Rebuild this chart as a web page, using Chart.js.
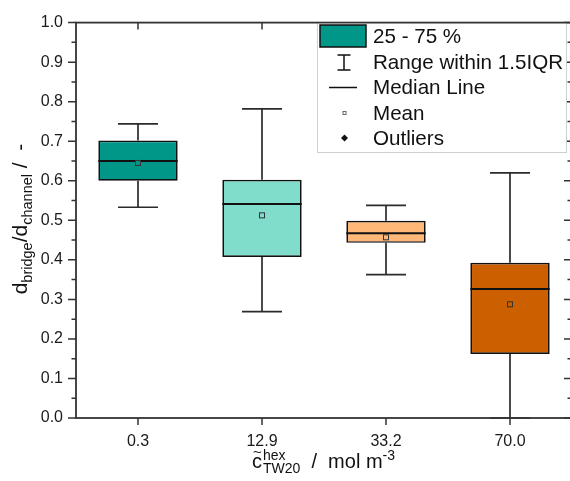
<!DOCTYPE html>
<html><head><meta charset="utf-8">
<script src="https://cdn.jsdelivr.net/npm/chart.js@4.4.1/dist/chart.umd.min.js"></script>
<style>html,body{margin:0;padding:0;overflow:hidden;background:#fff}#wrap{width:574px;height:481px}</style>
</head><body><div id="wrap"><canvas id="c" width="574" height="481"></canvas></div>
<script>
const categories = ['0.3', '12.9', '33.2', '70.0'];
const whiskerLow = [0.533, 0.269, 0.3625, 0.0];
const q1 = [0.600, 0.407, 0.443, 0.162];
const median = [0.650, 0.541, 0.4675, 0.326];
const q3 = [0.702, 0.6025, 0.499, 0.3925];
const whiskerHigh = [0.744, 0.782, 0.5375, 0.620];
const means = [0.645, 0.5125, 0.457, 0.2875];
const boxColors = ['#009688', '#80DDCB', '#FFB878', '#CC6000'];
const yTickValues = [0, 0.1, 0.2, 0.3, 0.4, 0.5, 0.6, 0.7, 0.8, 0.9, 1.0];
const yMinorValues = [0.05, 0.15, 0.25, 0.35, 0.45, 0.55, 0.65, 0.75, 0.85, 0.95];
const legendLabels = ['25 - 75 %', 'Range within 1.5IQR', 'Median Line', 'Mean', 'Outliers'];

const FONT = "'Liberation Sans', Arial, sans-serif";
const AX = '#333333';

function drawRich(ctx, parts, x, y) {
  let cx = x;
  parts.forEach(p => {
    ctx.font = p[1] + 'px ' + FONT;
    ctx.fillText(p[0], cx, y + p[2]);
    cx += ctx.measureText(p[0]).width;
  });
  return cx;
}
function richWidth(ctx, parts) {
  let w = 0;
  parts.forEach(p => { ctx.font = p[1] + 'px ' + FONT; w += ctx.measureText(p[0]).width; });
  return w;
}

const extras = {
  id: 'extras',
  afterDatasetsDraw(chart) {
    const { ctx, scales: { x, y } } = chart;
    const meta = chart.getDatasetMeta(0);
    ctx.save();
    categories.forEach((c, i) => {
      const bar = meta.data[i];
      const cx = x.getPixelForValue(i);
      const half = bar.width / 2;
      const cap = 20;
      const yHi = y.getPixelForValue(whiskerHigh[i]);
      const yLo = y.getPixelForValue(whiskerLow[i]);
      const yQ3 = y.getPixelForValue(q3[i]);
      const yQ1 = y.getPixelForValue(q1[i]);
      ctx.strokeStyle = '#2b2b2b';
      ctx.lineWidth = 1.7;
      ctx.beginPath();
      ctx.moveTo(cx, yQ3); ctx.lineTo(cx, yHi);
      ctx.moveTo(cx, yQ1); ctx.lineTo(cx, yLo);
      ctx.moveTo(cx - cap, yHi); ctx.lineTo(cx + cap, yHi);
      ctx.moveTo(cx - cap, yLo); ctx.lineTo(cx + cap, yLo);
      ctx.stroke();
      const yM = y.getPixelForValue(median[i]);
      ctx.strokeStyle = '#111';
      ctx.lineWidth = 2;
      ctx.beginPath();
      ctx.moveTo(cx - half, yM); ctx.lineTo(cx + half, yM);
      ctx.stroke();
      const yMean = y.getPixelForValue(means[i]);
      ctx.fillStyle = boxColors[i];
      ctx.strokeStyle = '#333';
      ctx.lineWidth = 1;
      ctx.fillRect(cx - 2.5, yMean - 2.5, 5, 5);
      ctx.strokeRect(cx - 2.5, yMean - 2.5, 5, 5);
    });
    ctx.restore();
  },
  afterDraw(chart) {
    const { ctx, chartArea: { left, right, top, bottom }, scales: { x, y } } = chart;
    ctx.save();
    ctx.strokeStyle = AX;
    ctx.lineWidth = 1.5;
    ctx.beginPath();
    yTickValues.forEach(v => {
      const p = y.getPixelForValue(v);
      ctx.moveTo(left - 8, p); ctx.lineTo(left, p);
      ctx.moveTo(right - 8, p); ctx.lineTo(right, p);
    });
    yMinorValues.forEach(v => {
      const p = y.getPixelForValue(v);
      ctx.moveTo(left - 4.5, p); ctx.lineTo(left, p);
      ctx.moveTo(right - 4.5, p); ctx.lineTo(right, p);
    });
    categories.forEach((c, i) => {
      const p = x.getPixelForValue(i);
      ctx.moveTo(p, bottom); ctx.lineTo(p, bottom + 7);
      ctx.moveTo(p, top); ctx.lineTo(p, top + 7);
    });
    ctx.stroke();

    // legend
    const lx = 317, ly = 22, lw = 249, lh = 130;
    ctx.fillStyle = '#fff';
    ctx.fillRect(lx, ly, lw, lh);
    ctx.strokeStyle = '#cfcfcf';
    ctx.lineWidth = 1;
    ctx.strokeRect(lx + 0.5, ly + 0.5, lw, lh);

    ctx.strokeStyle = AX;
    ctx.lineWidth = 1.8;
    ctx.strokeRect(left, top, right - left, bottom - top);

    const rows = [36, 62, 87.5, 113, 138];
    ctx.fillStyle = boxColors[0];
    ctx.fillRect(320, 25, 46, 22);
    ctx.strokeStyle = '#111';
    ctx.lineWidth = 1.5;
    ctx.strokeRect(320, 25, 46, 22);
    ctx.beginPath();
    ctx.moveTo(344, 55); ctx.lineTo(344, 70);
    ctx.moveTo(337.5, 55); ctx.lineTo(350.5, 55);
    ctx.moveTo(337.5, 70); ctx.lineTo(350.5, 70);
    ctx.moveTo(329, rows[2]); ctx.lineTo(357, rows[2]);
    ctx.stroke();
    ctx.lineWidth = 1;
    ctx.strokeStyle = '#666';
    ctx.strokeRect(343, rows[3] - 1.5, 3, 3);
    ctx.fillStyle = '#111';
    ctx.beginPath();
    ctx.moveTo(344.5, rows[4] - 3.5); ctx.lineTo(348, rows[4]); ctx.lineTo(344.5, rows[4] + 3.5); ctx.lineTo(341, rows[4]);
    ctx.closePath(); ctx.fill();

    ctx.fillStyle = '#111';
    ctx.font = '20.6px ' + FONT;
    ctx.textBaseline = 'middle';
    ctx.textAlign = 'left';
    legendLabels.forEach((t, i) => ctx.fillText(t, 373, rows[i] + 1));

    // y title
    ctx.textBaseline = 'alphabetic';
    ctx.save();
    ctx.translate(27, 219);
    ctx.rotate(-Math.PI / 2);
    const yParts = [['d', 21, 0], ['bridge', 14.5, 5], ['/d', 21, 0], ['channel', 14.5, 5], [' /  -', 21, 0]];
    const w = richWidth(ctx, yParts);
    drawRich(ctx, yParts, -w / 2, 0);
    ctx.restore();

    // x title
    ctx.font = '20px ' + FONT;
    const xb = 468;
    ctx.fillText('c', 252, xb);
    ctx.font = '15px ' + FONT;
    ctx.fillText('~', 253, xb - 11);
    ctx.font = '14px ' + FONT;
    ctx.fillText('hex', 263, xb - 8);
    ctx.fillText('TW20', 263, xb + 5);
    let px = 263 + ctx.measureText('TW20').width;
    drawRich(ctx, [['  /  mol m', 20, 0], ['-3', 14, -8]], px, xb);
    ctx.restore();
  }
};

new Chart(document.getElementById('c'), {
  type: 'bar',
  data: {
    labels: categories,
    datasets: [{
      data: categories.map((c, i) => [q1[i], q3[i]]),
      backgroundColor: boxColors,
      borderColor: '#111',
      borderWidth: 1.7,
      borderSkipped: false,
      barPercentage: 0.64,
      categoryPercentage: 1.0
    }]
  },
  options: {
    responsive: false,
    animation: false,
    devicePixelRatio: 1,
    layout: { padding: { left: 0, right: 2, top: 18, bottom: 0 } },
    plugins: { legend: { display: false }, tooltip: { enabled: false } },
    scales: {
      x: {
        type: 'category',
        offset: true,
        grid: { display: false, drawTicks: false },
        border: { display: false },
        ticks: { color: '#1a1a1a', font: { family: FONT, size: 16 }, padding: 14, maxRotation: 0 },
        afterFit(s) { s.height = 63; }
      },
      y: {
        min: 0, max: 1,
        grid: { display: false, drawTicks: false },
        border: { display: false },
        ticks: {
          stepSize: 0.1, color: '#1a1a1a', font: { family: FONT, size: 16 }, padding: 13,
          callback: v => yTickValues.includes(Math.round(v * 10) / 10) ? (Math.round(v * 10) / 10).toFixed(1) : ''
        },
        afterFit(s) { s.width = 76; }
      }
    }
  },
  plugins: [extras]
});
</script></body></html>
